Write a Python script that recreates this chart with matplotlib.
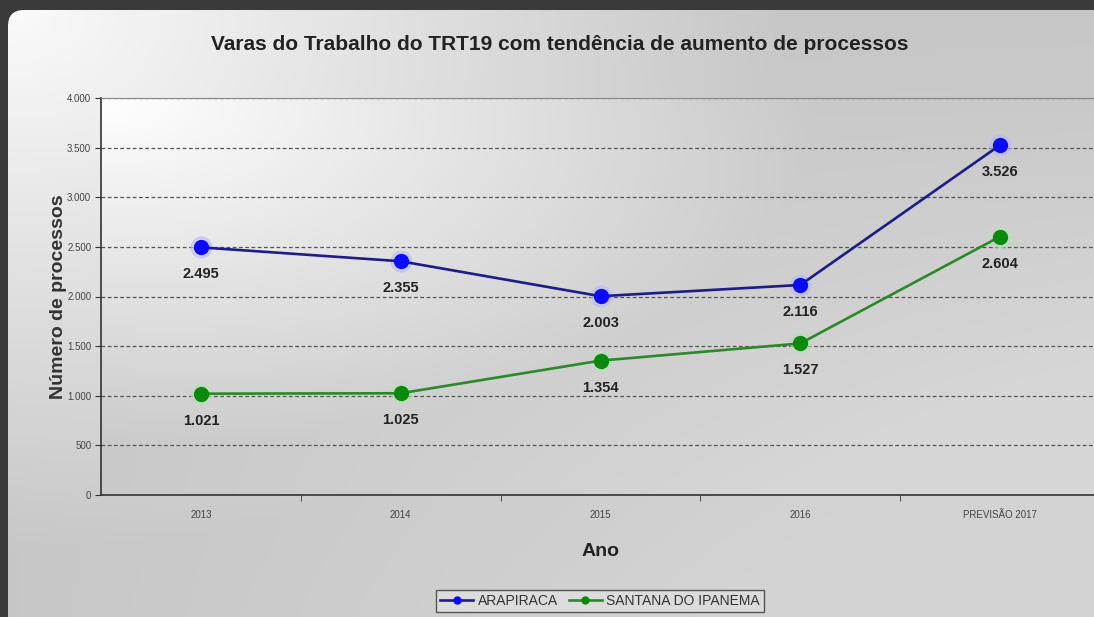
import numpy as np
import matplotlib.pyplot as plt
from matplotlib.patches import FancyBboxPatch, Rectangle

# dados do grafico
anos = ['2013', '2014', '2015', '2016', 'PREVISÃO 2017']
arapiraca = [2495, 2355, 2003, 2116, 3526]
santana = [1021, 1025, 1354, 1527, 2604]
y_ticks = [0, 500, 1000, 1500, 2000, 2500, 3000, 3500, 4000]


def fmt(v):
    # separador de milhar no formato brasileiro
    return f"{v:,}".replace(',', '.')


def gradient(w, h, lo=0.78, hi=0.98):
    xx, yy = np.meshgrid(np.linspace(0, 1, w), np.linspace(0, 1, h))
    d = np.sqrt((xx * 1.0) ** 2 + (yy * 0.8) ** 2)
    d = np.clip(d * 1.4, 0, 1)
    v = hi - (hi - lo) * d
    # clareia um pouco o canto inferior direito
    v += 0.05 * np.clip(xx * yy * 1.5, 0, 1)
    return np.dstack([v, v, v])


W, H = 1094, 617
fig = plt.figure(figsize=(W / 100, H / 100), dpi=100)
plt.rcParams['font.family'] = ['Liberation Sans', 'DejaVu Sans']

# fundo: borda escura e painel arredondado com degradê
bg = fig.add_axes([0, 0, 1, 1], zorder=-10)
bg.set_xlim(0, W)
bg.set_ylim(H, 0)
bg.axis('off')
bg.add_patch(Rectangle((0, 0), W, H, color='#3a3a3a'))
panel = FancyBboxPatch((8, 10), W + 40, H + 40, boxstyle='round,pad=0,rounding_size=16',
                       facecolor='none', edgecolor='none')
bg.add_patch(panel)
img = bg.imshow(gradient(200, 120), extent=[8, W, H, 10], aspect='auto', zorder=1)
img.set_clip_path(panel)

# area do grafico
left, right, bottom, top = 101, 1100, 495, 98
ax = fig.add_axes([left / W, 1 - bottom / H, (right - left) / W, (bottom - top) / H])
ax.set_facecolor('none')
ax.imshow(gradient(200, 120, lo=0.79, hi=1.0), extent=[0, 1, 0, 1], transform=ax.transAxes,
          aspect='auto', zorder=0)

x = np.arange(len(anos))
# halo claro em volta dos marcadores
ax.plot(x, arapiraca, ls='none', marker='o', markersize=15, color='#b8b8ff', alpha=0.5, zorder=3)
ax.plot(x, santana, ls='none', marker='o', markersize=15, color='#b8e0b8', alpha=0.5, zorder=3)
ax.plot(x, arapiraca, color='#1c1c8a', lw=1.9, marker='o', markersize=10,
        markerfacecolor='#0a0aff', markeredgecolor='#0a0aff', label='ARAPIRACA', zorder=4)
ax.plot(x, santana, color='#2a8a2a', lw=1.9, marker='o', markersize=10,
        markerfacecolor='#0a8a0a', markeredgecolor='#0a8a0a', label='SANTANA DO IPANEMA', zorder=4)

for serie in (arapiraca, santana):
    for xi, v in zip(x, serie):
        ax.annotate(fmt(v), (xi, v), xytext=(0, -27), textcoords='offset pixels',
                    ha='center', va='center', fontsize=10.5, fontweight='bold', color='#222222',
                    zorder=5)

ax.set_xlim(-0.5, len(anos) - 0.5)
ax.set_ylim(0, 4000)
ax.set_yticks(y_ticks)
ax.set_yticklabels([fmt(v) for v in y_ticks], fontsize=7, color='#444444')
ax.set_xticks(x)
ax.set_xticklabels(anos, fontsize=7, color='#444444')
ax.set_xticks(x[:-1] + 0.5, minor=True)
ax.tick_params(axis='x', which='major', length=0, pad=11)
ax.tick_params(axis='x', which='minor', length=4, color='#333333', direction='out')
ax.tick_params(axis='y', length=4, color='#333333', pad=3)

ax.grid(axis='y', color='#555555', linestyle=(0, (3, 2)), lw=0.9, zorder=1)
for s in ('left', 'bottom'):
    ax.spines[s].set_color('#333333')
    ax.spines[s].set_linewidth(1.2)
ax.spines['top'].set_color('#888888')
ax.spines['right'].set_visible(False)

ax.set_xlabel('Ano', fontsize=14, fontweight='bold', color='#222222', labelpad=16)
ax.set_ylabel('Número de processos', fontsize=14, fontweight='bold', color='#333333')
ax.yaxis.set_label_coords(-0.034, 0.5)

fig.text(0.512, 1 - 45 / H, 'Varas do Trabalho do TRT19 com tendência de aumento de processos',
         ha='center', va='center', fontsize=15, fontweight='bold', color='#222222')

leg = fig.legend(loc='center', bbox_to_anchor=(600 / W, 1 - 601 / H), ncol=2, fontsize=10,
                 frameon=True, fancybox=False, edgecolor='#555555', facecolor='#dcdcdc',
                 framealpha=1, handlelength=2.4, handletextpad=0.3, columnspacing=0.8,
                 borderpad=0.3, markerscale=0.5)
for t in leg.get_texts():
    t.set_color('#333333')

fig.savefig('out.png', dpi=100)
